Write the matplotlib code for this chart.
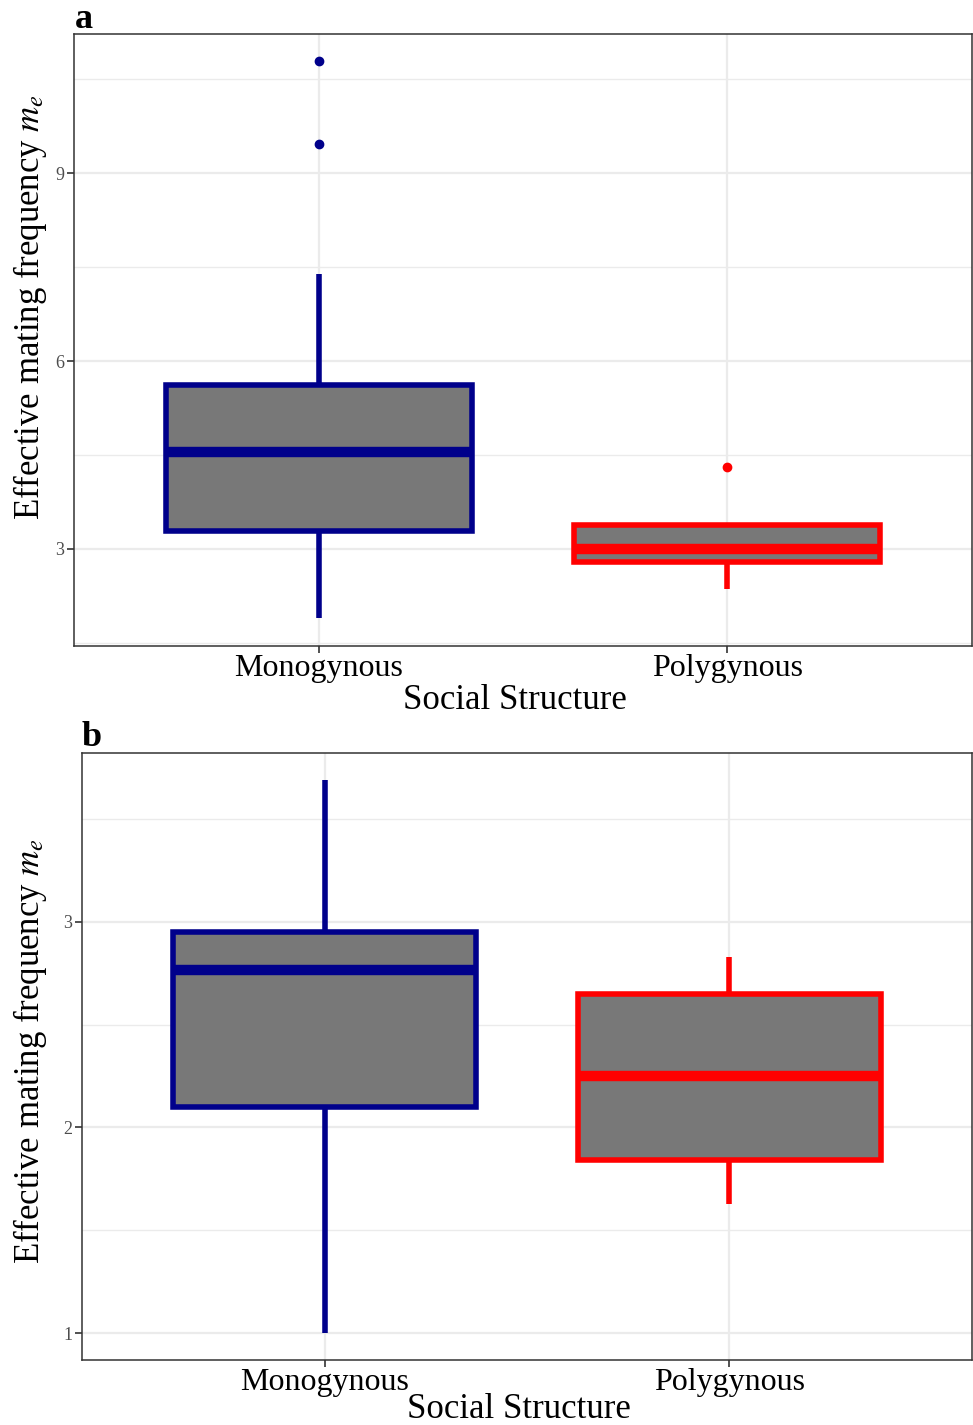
import matplotlib
matplotlib.use("Agg")
import matplotlib.pyplot as plt
from matplotlib.ticker import MultipleLocator

# ── DATA ──────────────────────────────────────────────────────────────────────
groups = ["Monogynous", "Polygynous"]

# panel a
a_q1    = [3.29, 2.79]
a_med   = [4.55, 3.00]
a_q3    = [5.61, 3.39]
a_lo    = [1.89, 2.36]
a_hi    = [7.39, 3.39]
a_out   = [[9.46, 10.79], [4.31]]

# panel b
b_q1    = [2.10, 1.84]
b_med   = [2.765, 2.25]
b_q3    = [2.95, 2.65]
b_lo    = [1.00, 1.63]
b_hi    = [3.69, 2.83]
b_out   = [[], []]

colors = ["#00008B", "#FF0000"]
FILL = "#787878"
GRID = "#EBEBEB"
# ─────────────────────────────────────────────────────────────────────────────

plt.rcParams["font.family"] = ["Liberation Serif", "DejaVu Serif"]
plt.rcParams["mathtext.fontset"] = "stix"

W, H = 973, 1425
fig = plt.figure(figsize=(W / 100, H / 100), dpi=100)


def px_axes(left, top, right, bottom):
    return fig.add_axes([left / W, 1 - bottom / H, (right - left) / W, (bottom - top) / H])


def draw_panel(ax, q1, med, q3, lo, hi, out, ylim, major, ylab_xy, xlab_xy):
    stats = []
    for i, g in enumerate(groups):
        stats.append({"label": g, "q1": q1[i], "med": med[i], "q3": q3[i],
                      "whislo": lo[i], "whishi": hi[i], "fliers": out[i]})
    for i, st in enumerate(stats):
        c = colors[i]
        ax.bxp([st], positions=[i + 1], widths=0.75, patch_artist=True,
               showcaps=False, manage_ticks=False,
               boxprops=dict(facecolor=FILL, edgecolor=c, linewidth=4),
               medianprops=dict(color=c, linewidth=7.5, solid_capstyle="butt"),
               whiskerprops=dict(color=c, linewidth=4, solid_capstyle="butt"),
               flierprops=dict(marker="o", markerfacecolor=c, markeredgecolor=c,
                               markersize=6))
    ax.set_xlim(0.4, 2.6)
    ax.set_ylim(*ylim)
    ax.set_xticks([1, 2])
    ax.set_xticklabels(groups, fontsize=23)
    ax.yaxis.set_major_locator(MultipleLocator(major))
    ax.yaxis.set_minor_locator(MultipleLocator(major / 2))
    ax.tick_params(axis="y", which="major", labelsize=13, labelcolor="#4D4D4D",
                   length=5, width=1.2, color="#333333", pad=2)
    ax.tick_params(axis="x", which="major", length=5, width=1.2, color="#333333",
                   pad=1, labelcolor="black")
    ax.tick_params(axis="y", which="minor", length=0)
    ax.grid(True, which="major", color=GRID, linewidth=1.6)
    ax.grid(True, which="minor", axis="y", color=GRID, linewidth=1.0)
    ax.set_axisbelow(True)
    for s in ax.spines.values():
        s.set_color("#333333")
        s.set_linewidth(1.1)
    ax.set_ylabel(r"Effective mating frequency $m_e$", fontsize=25, va="center")
    ax.yaxis.set_label_coords(*ylab_xy)
    ax.set_xlabel("Social Structure", fontsize=25, va="center")
    ax.xaxis.set_label_coords(*xlab_xy)


ax_a = px_axes(74, 33.5, 972, 645.7)
draw_panel(ax_a, a_q1, a_med, a_q3, a_lo, a_hi, a_out,
           (1.455, 11.23), 3, (-0.049, 0.553), (0.491, -0.089))

ax_b = px_axes(82, 752.7, 972, 1360)
draw_panel(ax_b, b_q1, b_med, b_q3, b_lo, b_hi, b_out,
           (0.870, 3.821), 1, (-0.058, 0.509), (0.491, -0.082))

fig.text(75 / W, 1 - 28 / H, "a", fontsize=26, fontweight="bold", va="baseline")
fig.text(82 / W, 1 - 746 / H, "b", fontsize=26, fontweight="bold", va="baseline")

fig.savefig("out.png", dpi=100)
